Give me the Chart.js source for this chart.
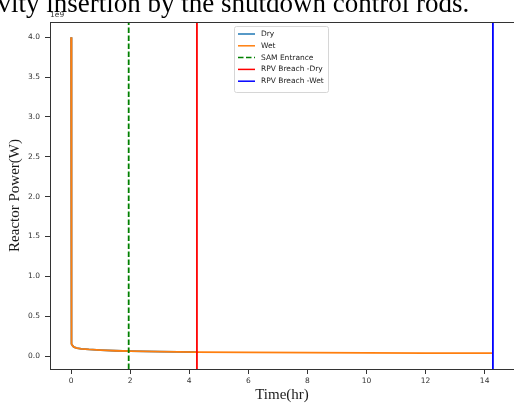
<!DOCTYPE html>
<html>
<head>
<meta charset="utf-8">
<script src="https://cdn.jsdelivr.net/npm/chart.js@4"></script>
<style>
  html, body { margin: 0; padding: 0; background: #fff; }
  #wrap { position: relative; width: 514px; height: 403px; overflow: hidden; }
  #powerChart { position: absolute; left: 0; top: 0; }
  #caption {
    position: absolute; left: -10px; top: -12px; white-space: nowrap;
    font: 27px 'Liberation Serif', serif; color: #000;
  }
</style>
</head>
<body>
<div id="wrap">
  <canvas id="powerChart" width="514" height="403"></canvas>
  <div id="caption">ivity insertion by the shutdown control rods.</div>
</div>
<script>
// time in hours, power in W
const timeWet = [0, 0.003, 0.008, 0.015, 0.03, 0.06, 0.1, 0.2, 0.35, 0.6, 1.0, 1.5, 2.0, 3.0, 4.26, 6, 8, 10, 12, 14.28];
const powerWet = [4.0e9, 2.2e9, 0.6e9, 0.2e9, 0.15e9, 0.125e9, 0.112e9, 0.1e9, 0.09e9, 0.082e9, 0.074e9, 0.066e9, 0.061e9, 0.054e9, 0.049e9, 0.045e9, 0.042e9, 0.039e9, 0.037e9, 0.035e9];
const timeDry = [0, 0.003, 0.008, 0.015, 0.03, 0.06, 0.1, 0.2, 0.35, 0.6, 1.0, 1.5, 2.0, 3.0, 4.26];
const powerDry = [4.0e9, 2.2e9, 0.6e9, 0.2e9, 0.15e9, 0.125e9, 0.112e9, 0.1e9, 0.09e9, 0.082e9, 0.074e9, 0.066e9, 0.061e9, 0.054e9, 0.049e9];

const samEntrance = 1.95;
const rpvBreachDry = 4.26;
const rpvBreachWet = 14.28;

const xTicks = [0, 2, 4, 6, 8, 10, 12, 14];
const xTickLabels = ['0', '2', '4', '6', '8', '10', '12', '14'];
const yTicks = [0, 0.5e9, 1.0e9, 1.5e9, 2.0e9, 2.5e9, 3.0e9, 3.5e9, 4.0e9];
const yTickLabels = ['0.0', '0.5', '1.0', '1.5', '2.0', '2.5', '3.0', '3.5', '4.0'];

const xMin = -0.714, xMax = 14.994;
const yMin = -0.163e9, yMax = 4.19e9;

const pts = (xs, ys) => xs.map((x, i) => ({ x, y: ys[i] }));
const vline = x => [{ x, y: yMin }, { x, y: yMax }];

const tickFont = { family: "'DejaVu Sans', sans-serif", size: 7.5 };
const titleFont = { family: "'Liberation Serif', serif", size: 15, lineHeight: 1 };

// matplotlib-like frame, offset text and legend box
const mplExtras = {
  id: 'mplExtras',
  afterDraw(chart) {
    const { ctx, chartArea: a } = chart;
    ctx.save();
    ctx.strokeStyle = '#333';
    ctx.lineWidth = 1;
    ctx.strokeRect(a.left + 0.5, a.top + 0.5, a.right - a.left, a.bottom - a.top);

    ctx.fillStyle = '#333';
    ctx.font = "7.5px 'DejaVu Sans'";
    ctx.textBaseline = 'bottom';
    ctx.textAlign = 'left';
    ctx.fillText('1e9', a.left, a.top - 3);

    // legend
    const sets = chart.data.datasets;
    const w = 94, rowH = 11.8, h = 66;
    const lx = Math.round((a.left + a.right) / 2 - w / 2) - 1, ly = a.top + 4;
    ctx.fillStyle = 'rgba(255,255,255,0.8)';
    ctx.strokeStyle = '#d6d6d6';
    ctx.beginPath();
    ctx.roundRect(lx + 0.5, ly + 0.5, w, h, 2);
    ctx.fill();
    ctx.stroke();
    sets.forEach((ds, i) => {
      const cy = ly + 8 + i * rowH;
      ctx.strokeStyle = ds.borderColor;
      ctx.lineWidth = 1.5;
      ctx.setLineDash(ds.borderDash || []);
      ctx.beginPath();
      ctx.moveTo(lx + 4, cy);
      ctx.lineTo(lx + 21, cy);
      ctx.stroke();
      ctx.setLineDash([]);
      ctx.fillStyle = '#222';
      ctx.textBaseline = 'middle';
      ctx.fillText(ds.label, lx + 27, cy);
    });
    ctx.restore();
  }
};

new Chart(document.getElementById('powerChart'), {
  type: 'line',
  data: {
    datasets: [
      { label: 'Dry', data: pts(timeDry, powerDry), borderColor: '#1f77b4', borderWidth: 1.8, order: 5 },
      { label: 'Wet', data: pts(timeWet, powerWet), borderColor: '#ff7f0e', borderWidth: 1.8, order: 4 },
      { label: 'SAM Entrance', data: vline(samEntrance), borderColor: '#008000', borderWidth: 1.8, borderDash: [5.5, 2.5], order: 3 },
      { label: 'RPV Breach -Dry', data: vline(rpvBreachDry), borderColor: '#ff0000', borderWidth: 1.8, order: 2 },
      { label: 'RPV Breach -Wet', data: vline(rpvBreachWet), borderColor: '#0000ff', borderWidth: 1.8, order: 1 }
    ]
  },
  options: {
    responsive: false,
    animation: false,
    devicePixelRatio: 1,
    elements: { point: { radius: 0 }, line: { tension: 0 } },
    layout: { padding: { top: 22, right: 0, bottom: 0, left: 0 } },
    plugins: { legend: { display: false }, tooltip: { enabled: false } },
    scales: {
      x: {
        type: 'linear',
        min: xMin,
        max: xMax,
        afterBuildTicks: s => { s.ticks = xTicks.map(v => ({ value: v })); },
        afterFit: s => { s.height = 34; },
        ticks: {
          callback: (v, i) => xTickLabels[i],
          font: tickFont, color: '#333', padding: 3, maxRotation: 0, autoSkip: false
        },
        grid: { drawOnChartArea: false, drawTicks: true, tickLength: 5, tickColor: '#333' },
        border: { color: '#333', width: 1 },
        title: { display: true, text: 'Time(hr)', font: titleFont, color: '#1a1a1a', padding: 0 }
      },
      y: {
        type: 'linear',
        min: yMin,
        max: yMax,
        afterBuildTicks: s => { s.ticks = yTicks.map(v => ({ value: v })); },
        afterFit: s => { s.width = 50; },
        ticks: {
          callback: (v, i) => yTickLabels[i],
          font: tickFont, color: '#333', padding: 5, autoSkip: false
        },
        grid: { drawOnChartArea: false, drawTicks: true, tickLength: 5, tickColor: '#333' },
        border: { color: '#333', width: 1 },
        title: { display: true, text: 'Reactor Power(W)', font: titleFont, color: '#1a1a1a', padding: { top: 8, bottom: 0 } }
      }
    }
  },
  plugins: [mplExtras]
});
</script>
</body>
</html>
